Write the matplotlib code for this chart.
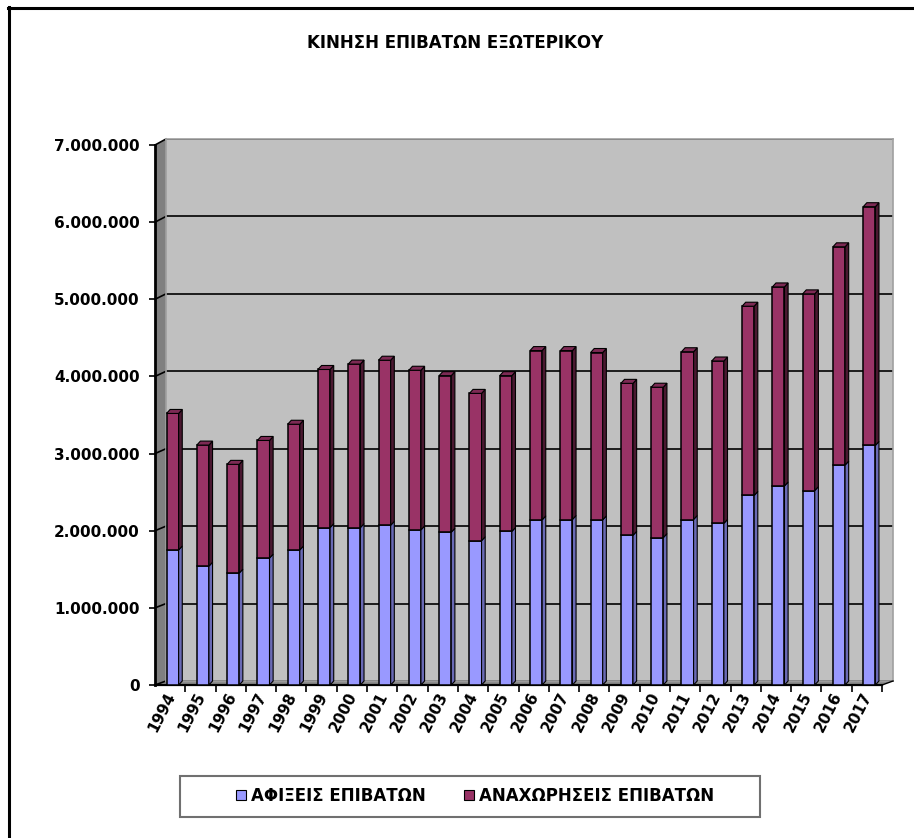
import matplotlib
matplotlib.use("Agg")
import matplotlib.pyplot as plt
from matplotlib.patches import Polygon, Rectangle, Patch
from matplotlib.lines import Line2D
import numpy as np

# data
years = [str(y) for y in range(1994, 2018)]
arrivals = [1750000, 1540000, 1450000, 1645000, 1750000, 2040000, 2040000, 2070000,
            2010000, 1980000, 1870000, 1990000, 2140000, 2145000, 2140000, 1940000,
            1910000, 2145000, 2095000, 2457000, 2580000, 2520000, 2850000, 3105000]
totals = [3520000, 3110000, 2860000, 3170000, 3380000, 4090000, 4160000, 4210000,
          4080000, 4010000, 3780000, 4010000, 4335000, 4335000, 4310000, 3910000,
          3860000, 4320000, 4200000, 4910000, 5160000, 5070000, 5680000, 6200000]
departures = [t - a for t, a in zip(totals, arrivals)]
labels = ["ΑΦΙΞΕΙΣ ΕΠΙΒΑΤΩΝ", "ΑΝΑΧΩΡΗΣΕΙΣ ΕΠΙΒΑΤΩΝ"]
title = "ΚΙΝΗΣΗ ΕΠΙΒΑΤΩΝ ΕΞΩΤΕΡΙΚΟΥ"

W, H = 914, 838
blue, blue_side = "#9999FF", "#6A6AB5"
maroon, maroon_side, maroon_top = "#993366", "#4A1830", "#7D2A54"
wall = "#808080"


def fx(x):
    return x / W


def fy(y):
    return 1 - y / H


fig = plt.figure(figsize=(W / 100, H / 100), dpi=100)

# back wall with the gridlines
back = fig.add_axes([fx(166), fy(681), fx(893 - 166), (681 - 139) / H])
back.set_facecolor("#C0C0C0")
back.set_xlim(0, 1)
back.set_ylim(0, 7000000)
back.set_yticks(np.arange(0, 7000001, 1000000))
back.set_xticks([])
back.tick_params(left=False, labelleft=False)
back.grid(axis="y", color="black", linewidth=1.2)
for s in back.spines.values():
    s.set_color("#A0A0A0")
    s.set_linewidth(1.2)

# left wall, floor and the slanted grid on the wall
fig.add_artist(Polygon([(fx(155), fy(145)), (fx(166), fy(139)), (fx(166), fy(681)), (fx(155), fy(685))],
                       closed=True, facecolor=wall, edgecolor="none", transform=fig.transFigure, zorder=-1))
fig.add_artist(Polygon([(fx(155), fy(685)), (fx(166), fy(681)), (fx(893), fy(681)), (fx(882), fy(685))],
                       closed=True, facecolor="#8C8C8C", edgecolor="none", transform=fig.transFigure, zorder=-1))
for k in range(8):
    yf = 685 - k * 540 / 7
    yb = 681 - k * 542 / 7
    fig.add_artist(Line2D([fx(155), fx(166)], [fy(yf), fy(yb)], color="black", linewidth=1.2,
                          transform=fig.transFigure, zorder=-0.5))
fig.add_artist(Line2D([fx(882), fx(893)], [fy(685), fy(681)], color="black", linewidth=1.0,
                      transform=fig.transFigure, zorder=2))

# front axes holding the bars and the tick labels
ax = fig.add_axes([fx(155), fy(685), fx(882 - 155), 540 / H])
ax.patch.set_alpha(0)
x = np.arange(len(years))
ax.set_xlim(-0.58, 23.42)
ax.set_ylim(0, 7000000)
bw = 0.4
ax.bar(x, arrivals, width=bw, color=blue, edgecolor="black", linewidth=1.1, zorder=3)
ax.bar(x, departures, width=bw, bottom=arrivals, color=maroon, edgecolor="black", linewidth=1.1, zorder=3)

# depth faces of the bars
dx = 0.12
dy = 4 * 7000000 / 540
for i in x:
    xl, xr = i - bw / 2, i + bw / 2
    a, t = arrivals[i], totals[i]
    ax.add_patch(Polygon([(xr, 0), (xr + dx, dy), (xr + dx, a + dy), (xr, a)], closed=True,
                         facecolor=blue_side, edgecolor="black", linewidth=0.8, zorder=3))
    ax.add_patch(Polygon([(xr, a), (xr + dx, a + dy), (xr + dx, t + dy), (xr, t)], closed=True,
                         facecolor=maroon_side, edgecolor="black", linewidth=0.8, zorder=3))
    ax.add_patch(Polygon([(xl, t), (xl + dx, t + dy), (xr + dx, t + dy), (xr, t)], closed=True,
                         facecolor=maroon_top, edgecolor="black", linewidth=0.8, zorder=3))

for s in ["top", "right"]:
    ax.spines[s].set_visible(False)
ax.spines["left"].set_linewidth(2)
ax.spines["bottom"].set_linewidth(1.6)

yt = np.arange(0, 7000001, 1000000)
ax.set_yticks(yt, [f"{v:,.0f}".replace(",", ".") for v in yt])
ax.tick_params(axis="y", length=4, width=1.2, pad=7)
ax.set_xticks(x + 0.42)
ax.tick_params(axis="x", which="major", length=5, width=1.2, labelbottom=False)
ax.set_xticks(x - 0.03, years, minor=True)
ax.tick_params(axis="x", which="minor", length=0, pad=6)
for lab in ax.get_yticklabels():
    lab.set_fontfamily("DejaVu Sans")
    lab.set_fontweight("bold")
    lab.set_fontsize(11)
for lab in ax.get_xticklabels(minor=True):
    lab.set_fontfamily("DejaVu Sans")
    lab.set_fontweight("bold")
    lab.set_fontsize(11)
    lab.set_rotation(63)
    lab.set_ha("right")
    lab.set_va("center")
    lab.set_rotation_mode("anchor")

fig.text(fx(455), fy(43), title, ha="center", va="center", fontsize=12,
         fontweight="bold", family="DejaVu Sans")

# legend with its own box
fig.add_artist(Rectangle((fx(180), fy(817)), fx(760 - 180), (817 - 776) / H, facecolor="white",
                         edgecolor="#707070", linewidth=1.5, transform=fig.transFigure))
handles = [Patch(facecolor=blue, edgecolor="black", linewidth=0.8),
           Patch(facecolor=maroon, edgecolor="black", linewidth=0.8)]
fig.legend(handles, labels, loc="center", bbox_to_anchor=(fx(475), fy(796)), ncol=2, frameon=False,
           prop={"family": "DejaVu Sans", "weight": "bold", "size": 12}, handlelength=0.6,
           handleheight=0.6, handletextpad=0.3, columnspacing=2.3)

# outer frame of the chart area
fig.add_artist(Line2D([fx(9), fx(9)], [fy(7), 0], color="black", linewidth=2.2, transform=fig.transFigure))
fig.add_artist(Line2D([fx(8), 1], [fy(8), fy(8)], color="black", linewidth=2.2, transform=fig.transFigure))

fig.savefig("out.png", dpi=100)
